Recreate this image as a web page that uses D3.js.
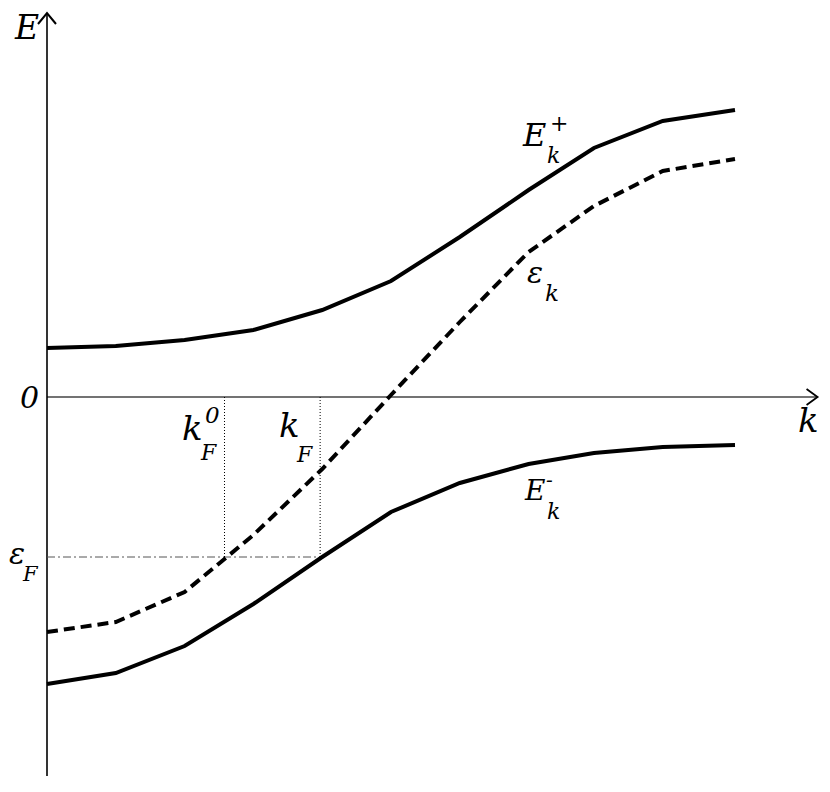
<!DOCTYPE html>
<html>
<head>
<meta charset="utf-8">
<script src="https://cdn.jsdelivr.net/npm/d3@7/dist/d3.min.js"></script>
<style>
  body { margin: 0; background: #fff; }
</style>
</head>
<body>
<script>
'use strict';

// k positions of the polyline vertices
const kValues = [0, 1, 2, 3, 4, 5, 6, 7, 7.95, 8.95, 10];
// upper branch E+_k
const ePlus = [0.98, 1.02, 1.14, 1.34, 1.74, 2.32, 3.2, 4.14, 4.98, 5.52, 5.74];
// bare dispersion eps_k (dashed)
const epsK = [-4.7, -4.5, -3.9, -2.76, -1.44, 0.04, 1.5, 2.9, 3.82, 4.52, 4.76];
// lower branch E-_k
const eMinus = [-5.74, -5.52, -4.98, -4.14, -3.2, -2.3, -1.72, -1.34, -1.12, -1.0, -0.96];
// Fermi markers
const kF0 = 2.58;
const kF = 3.97;
const epsF = -3.2;

(function() {
  let svg = d3.select('body')
    .append('svg')
    .attr('width', 830)
    .attr('height', 792);

  // 68.8 px per unit of k, 50 px per unit of E
  let xScale = d3.scaleLinear().domain([0, 10]).range([47, 735]);
  let yScale = d3.scaleLinear().domain([-8, 8]).range([797, -3]);

  let x0 = xScale(0), y0 = yScale(0);
  let xEnd = xScale(11.2), yTop = yScale(7.68), yBot = yScale(-7.58);

  // axes
  svg.append('line')
    .attr('x1', x0).attr('y1', y0).attr('x2', xEnd).attr('y2', y0)
    .attr('stroke', '#444').attr('stroke-width', 1.5);
  svg.append('path')
    .attr('d', `M${xEnd - 11},${y0 - 8}L${xEnd},${y0}L${xEnd - 11},${y0 + 8}`)
    .attr('fill', 'none').attr('stroke', '#000').attr('stroke-width', 1.8);

  svg.append('line')
    .attr('x1', x0).attr('y1', yBot).attr('x2', x0).attr('y2', yTop)
    .attr('stroke', '#000').attr('stroke-width', 1.6);
  svg.append('path')
    .attr('d', `M${x0 - 9},${yTop + 11}L${x0},${yTop}L${x0 + 9},${yTop + 11}`)
    .attr('fill', 'none').attr('stroke', '#000').attr('stroke-width', 2);

  // Fermi guides
  svg.append('line')
    .attr('x1', x0).attr('y1', yScale(epsF)).attr('x2', xScale(kF)).attr('y2', yScale(epsF))
    .attr('stroke', '#555').attr('stroke-width', 1)
    .attr('stroke-dasharray', '8,3,2,3');
  [kF0, kF].forEach(k => {
    svg.append('line')
      .attr('x1', xScale(k)).attr('y1', y0).attr('x2', xScale(k)).attr('y2', yScale(epsF))
      .attr('stroke', '#000').attr('stroke-width', 1)
      .attr('stroke-dasharray', '1,2');
  });

  // curves
  let line = d3.line()
    .x(d => xScale(d[0]))
    .y(d => yScale(d[1]));

  let curves = [
    { values: ePlus, dash: null },
    { values: epsK, dash: '11,6' },
    { values: eMinus, dash: null }
  ];
  curves.forEach(c => {
    svg.append('path')
      .datum(kValues.map((k, i) => [k, c.values[i]]))
      .attr('d', line)
      .attr('fill', 'none')
      .attr('stroke', '#000')
      .attr('stroke-width', 4)
      .attr('stroke-dasharray', c.dash);
  });

  // labels: [text, font size, x, baseline y]
  let labels = [
    ['E', 33, 15, 39],
    ['0', 30, 20, 408],
    ['k', 34, 798, 432],
    ['k', 34, 182, 440], ['0', 23, 205, 423], ['F', 22, 201, 460],
    ['k', 34, 279, 437], ['F', 22, 297, 462],
    ['ε', 30, 9, 564], ['F', 21, 23, 581],
    ['E', 32, 523, 146], ['+', 22, 550, 131], ['k', 22, 547, 163],
    ['ε', 30, 527, 283], ['k', 23, 545, 301],
    ['E', 28, 525, 500], ['-', 20, 546, 487], ['k', 22, 547, 519]
  ];
  svg.selectAll('.lbl')
    .data(labels)
    .enter()
    .append('text')
    .attr('class', 'lbl')
    .attr('x', d => d[2])
    .attr('y', d => d[3])
    .style('font-family', 'DejaVu Serif')
    .style('font-style', 'italic')
    .attr('fill', '#000')
    .style('font-size', d => d[1] + 'px')
    .text(d => d[0]);
})();
</script>
</body>
</html>
